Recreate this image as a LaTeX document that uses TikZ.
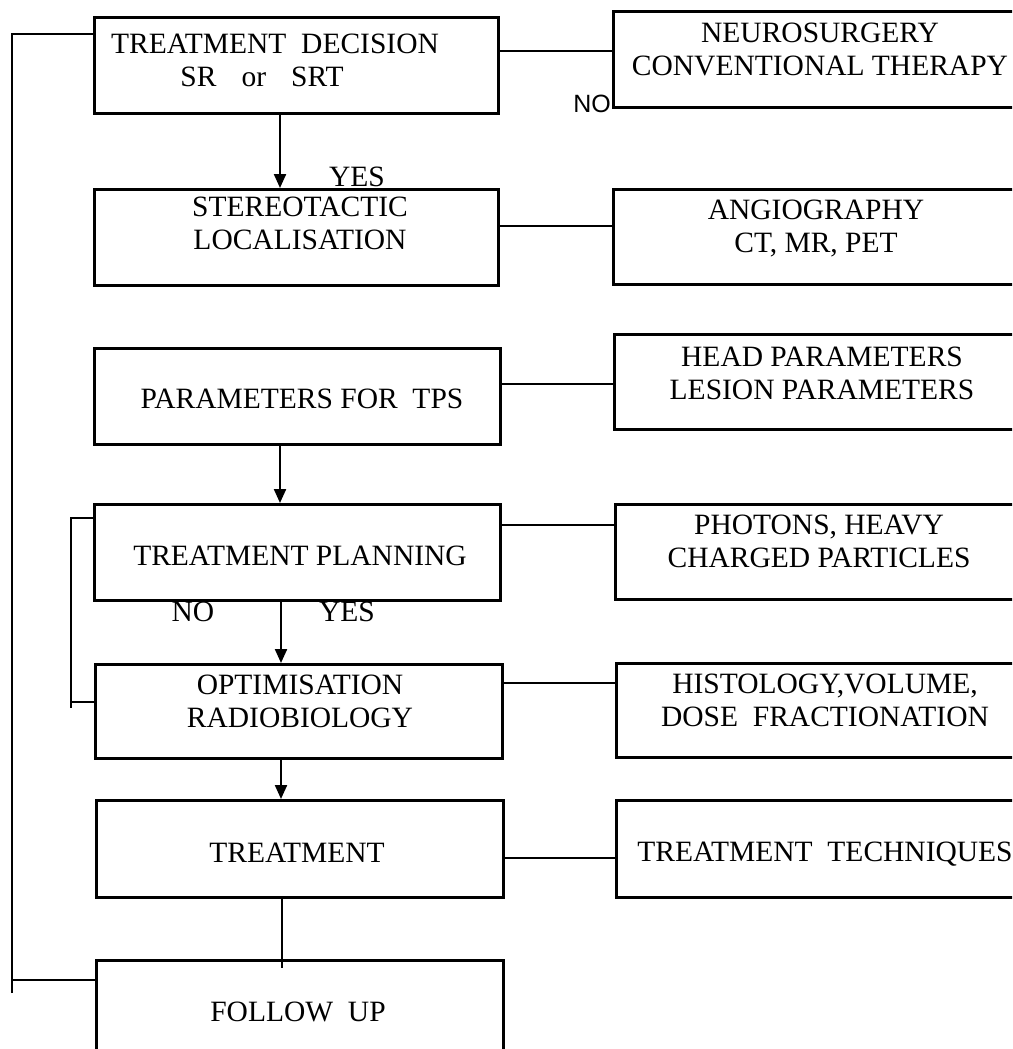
\documentclass[tikz,border=0pt]{standalone}
\usepackage{fontspec}
\setmainfont{Liberation Serif}
\newfontfamily\nosans{Liberation Sans}
\usetikzlibrary{arrows.meta,calc}
\begin{document}
\begin{tikzpicture}[x=1pt,y=-1pt,
  box/.style={draw,line width=2.8pt,inner sep=0pt,anchor=north west},
  lbl/.style={inner sep=0pt,anchor=north,align=center,font=\fontsize{29.5}{33}\selectfont},
  conn/.style={line width=2.4pt},
  arr/.style={line width=2.2pt,-{Triangle[length=14pt,width=12pt]}},
  yn/.style={inner sep=0pt,font=\fontsize{29.5}{33}\selectfont}]
\useasboundingbox (0,0) rectangle (1012,1049);
\clip (0,0) rectangle (1012,1049);
% left column boxes
\node[box,minimum width=404pt,minimum height=96pt] (td) at (93,16) {};
\node[box,minimum width=404pt,minimum height=96pt] (st) at (93,188) {};
\node[box,minimum width=406pt,minimum height=96pt] (pa) at (93,347) {};
\node[box,minimum width=406pt,minimum height=96pt] (pl) at (93,503) {};
\node[box,minimum width=407pt,minimum height=94pt] (op) at (94,663) {};
\node[box,minimum width=407pt,minimum height=97pt] (tr) at (95,799) {};
\node[box,minimum width=407pt,minimum height=130pt] (fu) at (95,959) {};
% right column boxes
\node[box,minimum width=430pt,minimum height=96pt] (ne) at (612,10) {};
\node[box,minimum width=430pt,minimum height=95pt] (an) at (612,188) {};
\node[box,minimum width=430pt,minimum height=95pt] (he) at (613,333) {};
\node[box,minimum width=430pt,minimum height=95pt] (ph) at (614,503) {};
\node[box,minimum width=430pt,minimum height=94pt] (hi) at (615,662) {};
\node[box,minimum width=430pt,minimum height=97pt] (tt) at (615,799) {};
% texts
\node[lbl] (tdT) at (275,34) {TREATMENT\ \ DECISION\\SR\hspace{0.85em}or\hspace{0.85em}SRT\hspace*{26pt}};
\node[lbl] (stT) at (300,197) {STEREOTACTIC\\LOCALISATION};
\node[lbl] (paT) at (302,389) {PARAMETERS FOR\ \ TPS};
\node[lbl] (plT) at (300,546) {TREATMENT PLANNING};
\node[lbl] (opT) at (300,675) {OPTIMISATION\\RADIOBIOLOGY};
\node[lbl] (trT) at (297,843) {TREATMENT};
\node[lbl] (fuT) at (298,1002) {FOLLOW\ \ UP};
\node[lbl] (neT) at (820,23) {NEUROSURGERY\\CONVENTIONAL THERAPY};
\node[lbl] (anT) at (816,200) {ANGIOGRAPHY\\CT, MR, PET};
\node[lbl] (heT) at (822,347) {HEAD PARAMETERS\\LESION PARAMETERS};
\node[lbl] (phT) at (819,515) {PHOTONS, HEAVY\\CHARGED PARTICLES};
\node[lbl] (hiT) at (825,674) {HISTOLOGY,VOLUME,\\DOSE\ \ FRACTIONATION};
\node[lbl] (ttT) at (825,842) {TREATMENT\ \ TECHNIQUES};
% yes / no labels
\node[yn] (yes1) at (357,177) {YES};
\node[yn] (no2) at (193,612) {NO};
\node[yn] (yes2) at (347,612) {YES};
\node[inner sep=0pt,anchor=east,font=\nosans\fontsize{25}{28}\selectfont] (no1) at (611,104) {NO};
% horizontal connectors to the right column
\draw[conn] (td.east |- 0,51) -- (ne.west |- 0,51);
\draw[conn] (st.east |- 0,226) -- (an.west |- 0,226);
\draw[conn] (pa.east |- 0,384) -- (he.west |- 0,384);
\draw[conn] (pl.east |- 0,525) -- (ph.west |- 0,525);
\draw[conn] (op.east |- 0,683) -- (hi.west |- 0,683);
\draw[conn] (tr.east |- 0,858) -- (tt.west |- 0,858);
% vertical flow
\draw[arr] (280,0 |- td.south) -- (280,0 |- st.north);
\draw[arr] (280,0 |- pa.south) -- (280,0 |- pl.north);
\draw[arr] (281,0 |- pl.south) -- (281,0 |- op.north);
\draw[arr] (281,0 |- op.south) -- (281,0 |- tr.north);
\coordinate (fuin) at (282,968);
\draw[conn] (282,0 |- tr.south) -- (fuin);
% feedback loop
\coordinate (lt) at (12,34);
\coordinate (lb) at (12,993);
\draw[conn] (lb) -- (lt) -- (td.west |- lt);
\draw[conn] (fu.west |- 0,980) -- (12,980);
% planning bracket
\coordinate (bt) at (71,518);
\coordinate (bb) at (71,708);
\draw[conn] (pl.west |- bt) -- (bt) -- (bb);
\draw[conn] (op.west |- 0,702) -- (71,702);
\end{tikzpicture}
\end{document}
